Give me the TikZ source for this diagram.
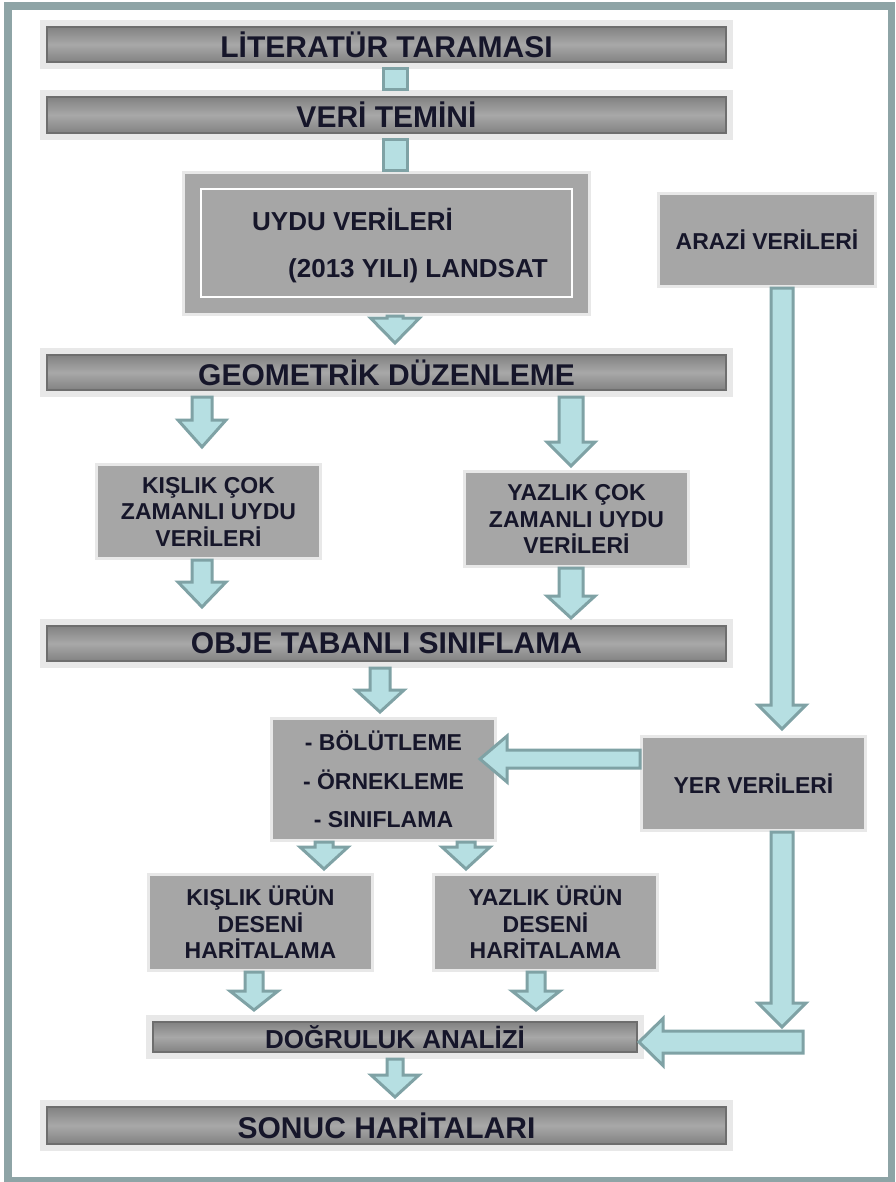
\documentclass[tikz,border=0pt]{standalone}
\usepackage{fontspec}
\setmainfont{Liberation Sans}
\usetikzlibrary{calc}
\definecolor{framec}{HTML}{8EA4A6}
\definecolor{haloc}{HTML}{E8E8E8}
\definecolor{boxc}{HTML}{A6A6A6}
\definecolor{barmid}{HTML}{A8A8A8}
\definecolor{baredge}{HTML}{828282}
\definecolor{arrfill}{HTML}{B6DFE2}
\definecolor{arrline}{HTML}{7FA2A5}
\definecolor{txtc}{HTML}{16162A}
\tikzset{
  bar/.style={shading=axis, top color=baredge, bottom color=baredge, middle color=barmid,
    draw=baredge!85!black, line width=1.2pt, preaction={draw=haloc, line width=14pt},
    minimum width=679pt, inner sep=0pt, outer sep=7pt, text=txtc,
    font=\bfseries\fontsize{30}{30}\selectfont},
  box/.style={fill=boxc, preaction={draw=haloc, line width=6pt}, minimum width=221pt,
    inner sep=0pt, outer sep=3pt, text=txtc, align=center,
    font=\bfseries\fontsize{23}{26.5}\selectfont},
  lbl/.style={text=txtc, inner sep=0pt, font=\bfseries\fontsize{26}{26}\selectfont},
  blockarrow/.style={fill=arrfill, draw=arrline, line width=3pt, line join=miter},
}
% vertical block arrow: source, target, x, shaft half width, head half width, head length, gap at tail, gap at tip
\newcommand\vblock[8]{%
  \draw[blockarrow] let \p1=(#1), \p2=(#2) in
    ({(#3-#4)*1pt},{\y1-(#7)*1pt}) -- ({(#3-#4)*1pt},{\y2+(#8+#6)*1pt})
    -- ({(#3-#5)*1pt},{\y2+(#8+#6)*1pt}) -- ({#3*1pt},{\y2+(#8)*1pt})
    -- ({(#3+#5)*1pt},{\y2+(#8+#6)*1pt}) -- ({(#3+#4)*1pt},{\y2+(#8+#6)*1pt})
    -- ({(#3+#4)*1pt},{\y1-(#7)*1pt}) -- cycle;}
% leftward block arrow: source, target, y, shaft half width, head half width, head length, gap at tail, gap at tip
\newcommand\hblock[8]{%
  \draw[blockarrow] let \p1=(#1), \p2=(#2) in
    ({\x1-(#7)*1pt},{-(#3-#4)*1pt}) -- ({\x2+(#8+#6)*1pt},{-(#3-#4)*1pt})
    -- ({\x2+(#8+#6)*1pt},{-(#3-#5)*1pt}) -- ({\x2+(#8)*1pt},{-#3*1pt})
    -- ({\x2+(#8+#6)*1pt},{-(#3+#5)*1pt}) -- ({\x2+(#8+#6)*1pt},{-(#3+#4)*1pt})
    -- ({\x1-(#7)*1pt},{-(#3+#4)*1pt}) -- cycle;}
% plain vertical bar connector
\newcommand\vbar[4]{%
  \draw[blockarrow] let \p1=(#1), \p2=(#2) in
    ({(#3-#4)*1pt},\y1) rectangle ({(#3+#4)*1pt},\y2);}
\begin{document}
\begin{tikzpicture}[x=1pt,y=-1pt]
\useasboundingbox (0,0) rectangle (895,1182);
\fill[white] (0,0) rectangle (895,1182);
\draw[framec, line width=7.5pt] (8,6) rectangle (891.5,1181);

% bars
\node[bar, minimum height=35pt] (lit) at (386.5,44.5) {LİTERATÜR TARAMASI};
\node[bar, minimum height=36pt] (veri) at (386.5,115) {VERİ TEMİNİ};
\node[bar, minimum height=35pt] (geo) at (386.5,372.5) {GEOMETRİK DÜZENLEME};
\node[bar, minimum height=35pt] (obje) at (386.5,643.5) {OBJE TABANLI SINIFLAMA};
\node[bar, minimum height=30pt, minimum width=484pt, font=\bfseries\fontsize{26}{26}\selectfont] (dog) at (395,1037) {DOĞRULUK ANALİZİ};
\node[bar, minimum height=37pt] (sonuc) at (386.5,1125.5) {SONUC HARİTALARI};

% satellite data box
\node[box, minimum width=403pt, minimum height=139pt] (uydu) at (386.5,243.5) {};
\draw[white, line width=2.5pt] (201,189) rectangle (572,297);
\node[lbl, anchor=base west] (uydu1) at (252,231) {UYDU VERİLERİ};
\node[lbl, anchor=base west] (uydu2) at (288,277) {(2013 YILI) LANDSAT};

% boxes
\node[box, minimum width=214pt, minimum height=90pt] (arazi) at (767,240) {ARAZİ VERİLERİ};
\node[box, minimum height=91pt] (kc) at (208.5,511.5) {KIŞLIK ÇOK\\ZAMANLI UYDU\\VERİLERİ};
\node[box, minimum height=92pt] (yc) at (576.5,519) {YAZLIK ÇOK\\ZAMANLI UYDU\\VERİLERİ};
\node[box, minimum height=119pt, font=\bfseries\fontsize{23}{38.5}\selectfont] (list) at (383.5,779.5) {- BÖLÜTLEME\\- ÖRNEKLEME\\- SINIFLAMA};
\node[box, minimum height=91pt] (yer) at (753.5,783.5) {YER VERİLERİ};
\node[box, minimum height=93pt] (ku) at (260.5,922.5) {KIŞLIK ÜRÜN\\DESENİ\\HARİTALAMA};
\node[box, minimum height=93pt] (yu) at (545.5,922.5) {YAZLIK ÜRÜN\\DESENİ\\HARİTALAMA};

\coordinate (yend) at (782,1027);
\coordinate (dtail) at (803,1042);

% connectors
\vbar{lit.south}{veri.north}{395}{12}
\vbar{veri.south}{uydu.north}{395}{12}
\vblock{uydu.south}{geo.north}{395}{8}{24.5}{25}{0}{5}
\vblock{geo.south}{kc.north}{202}{10}{24}{27}{0}{16}
\vblock{geo.south}{yc.north}{571}{12}{24}{24}{0}{4}
\vblock{kc.south}{obje.north}{202}{10}{24}{25}{0}{12}
\vblock{yc.south}{obje.north}{571}{12}{24}{22}{0}{1}
\vblock{obje.south}{list.north}{380}{10}{24}{22}{0}{5}
\vblock{list.south}{ku.north}{324}{9}{24}{22}{0}{4}
\vblock{list.south}{yu.north}{466}{9}{24}{22}{0}{4}
\vblock{ku.south}{dog.north}{254}{9}{24}{19}{0}{5}
\vblock{yu.south}{dog.north}{536}{9}{24}{19}{0}{5}
\vblock{dog.south}{sonuc.north}{395}{8}{24}{22}{0}{3}
\vblock{arazi.south}{yer.north}{782}{11}{24}{24}{0}{6}
\hblock{yer.west}{list.east}{759}{9}{23}{27}{0}{-17}
\vblock{yer.south}{yend}{782}{11}{24}{24}{0}{0}
\hblock{dtail}{dog.east}{1042}{11}{23.5}{24}{0}{-5}
\end{tikzpicture}
\end{document}
